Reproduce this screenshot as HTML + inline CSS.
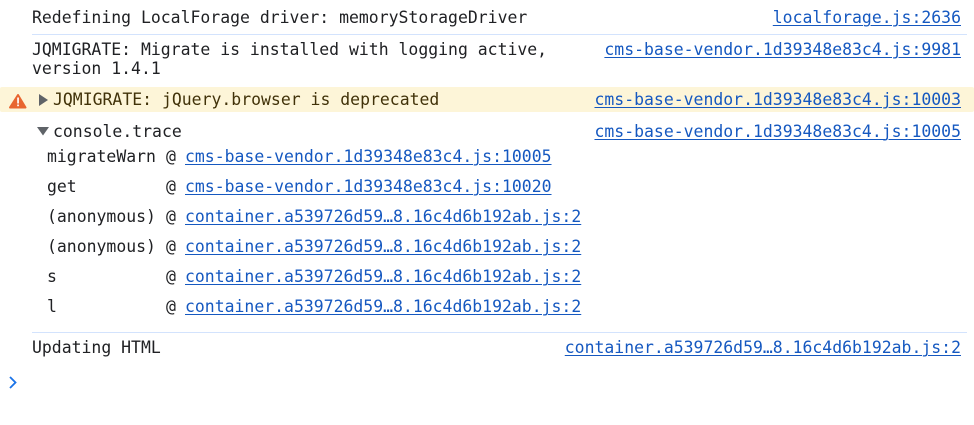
<!DOCTYPE html>
<html><head><meta charset="utf-8"><style>
html,body{margin:0;padding:0;background:#fff;width:974px;height:425px;overflow:hidden}
.t{position:absolute;font:16.47px/20px "DejaVu Sans Mono",monospace;color:#202124;white-space:pre}
.a{color:#1558c0;text-decoration:underline;text-underline-offset:2px;text-decoration-thickness:1px}
.r{right:13px}
.l{position:absolute;left:32px;width:935px;height:1px;background:#d3e3fd}
.n{left:47px}.m{left:166px}.k{left:185px}
</style></head><body>
<div style="position:absolute;left:0;top:87px;width:974px;height:25px;background:#fdf5d8;border-radius:2px"></div>
<div class="l" style="top:34px"></div>
<div class="l" style="top:332px"></div>
<div class="t" style="left:32px;top:8px">Redefining LocalForage driver: memoryStorageDriver</div>
<div class="t a r" style="top:8px">localforage.js:2636</div>
<div class="t" style="left:32px;top:40px">JQMIGRATE: Migrate is installed with logging active,</div>
<div class="t" style="left:32px;top:59px">version 1.4.1</div>
<div class="t a r" style="top:40px">cms-base-vendor.1d39348e83c4.js:9981</div>
<svg style="position:absolute;left:0;top:0" width="974" height="425">
<path d="M18 95L25.500 107.500H10Z" fill="#e8652f" stroke="#e8652f" stroke-width="2" stroke-linejoin="round"/>
<rect x="17.200" y="97.500" width="1.700" height="6" fill="#fff"/><rect x="17.200" y="104.500" width="1.700" height="1.700" fill="#fff"/>
<path d="M39 94L48 100L39 106Z" fill="#5f6368"/>
<path d="M37 127H49L43 135.500Z" fill="#5f6368"/>
<path d="M10 377L15.500 382.500L10 388" fill="none" stroke="#1a73e8" stroke-width="1.800"/>
</svg>
<div class="t" style="left:53px;top:90px;color:#413209">JQMIGRATE: jQuery.browser is deprecated</div>
<div class="t a r" style="top:90px">cms-base-vendor.1d39348e83c4.js:10003</div>
<div class="t" style="left:53px;top:121.500px">console.trace</div>
<div class="t a r" style="top:121.500px">cms-base-vendor.1d39348e83c4.js:10005</div>
<div class="t n" style="top:147px">migrateWarn</div><div class="t m" style="top:147px">@</div><div class="t k a" style="top:147px">cms-base-vendor.1d39348e83c4.js:10005</div>
<div class="t n" style="top:177px">get</div><div class="t m" style="top:177px">@</div><div class="t k a" style="top:177px">cms-base-vendor.1d39348e83c4.js:10020</div>
<div class="t n" style="top:207px">(anonymous)</div><div class="t m" style="top:207px">@</div><div class="t k a" style="top:207px">container.a539726d59…8.16c4d6b192ab.js:2</div>
<div class="t n" style="top:237px">(anonymous)</div><div class="t m" style="top:237px">@</div><div class="t k a" style="top:237px">container.a539726d59…8.16c4d6b192ab.js:2</div>
<div class="t n" style="top:267px">s</div><div class="t m" style="top:267px">@</div><div class="t k a" style="top:267px">container.a539726d59…8.16c4d6b192ab.js:2</div>
<div class="t n" style="top:297px">l</div><div class="t m" style="top:297px">@</div><div class="t k a" style="top:297px">container.a539726d59…8.16c4d6b192ab.js:2</div>
<div class="t" style="left:32px;top:338px">Updating HTML</div>
<div class="t a r" style="top:338px">container.a539726d59…8.16c4d6b192ab.js:2</div>
</body></html>
